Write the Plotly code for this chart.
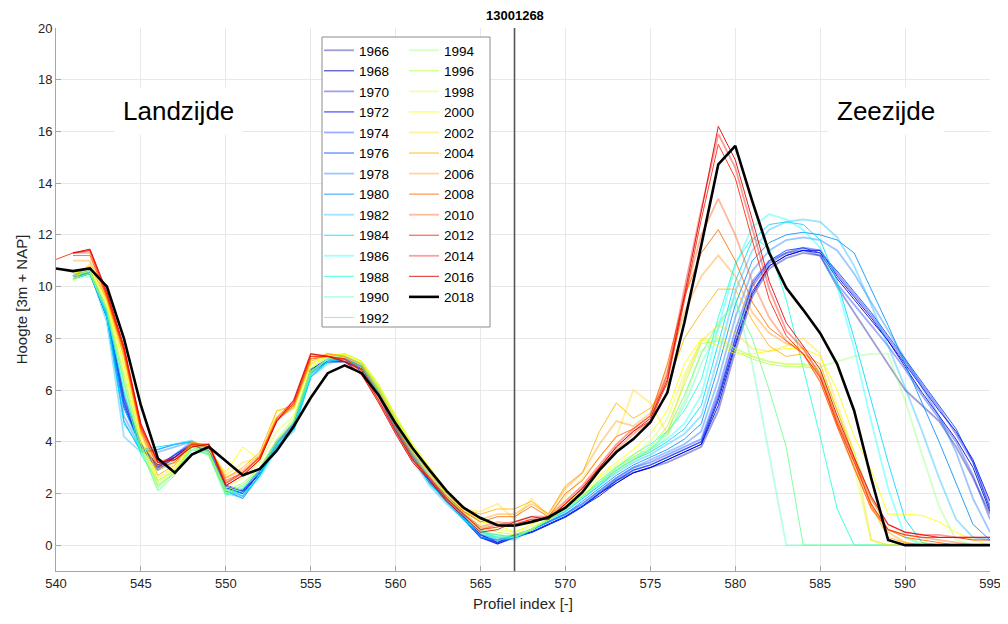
import plotly.graph_objects as go

profile_index = list(range(540, 596))
years = list(range(1966, 2020, 2))

# ---- heights per year (540 ... 595) ----
h1966 = [None,10.4,10.5,8.9,5.6,3.9,3.0,3.4,3.9,3.6,2.2,2.1,2.8,3.9,4.6,6.7,7.1,7.1,6.8,5.8,4.5,3.4,2.5,1.7,1.1,0.4,0.1,
         0.4,0.5,0.8,1.1,1.5,2.0,2.5,2.8,3.0,3.2,3.5,3.8,5.2,7.5,9.6,10.7,11.1,11.3,11.2,10.0,9.0,8.0,7.0,6.0,5.4,4.8,3.8,2.6,1.2]
h1968 = [None,10.3,10.5,8.8,5.4,3.8,3.1,3.4,3.9,3.6,2.2,2.0,2.8,3.9,4.6,6.8,7.1,7.1,6.8,5.8,4.5,3.4,2.5,1.7,1.1,0.4,0.1,
         0.4,0.5,0.8,1.1,1.5,2.0,2.4,2.8,3.0,3.3,3.6,3.9,5.6,7.8,9.8,10.8,11.2,11.4,11.3,10.3,9.5,8.7,7.9,6.9,5.9,5.0,4.1,3.0,1.3]
h1970 = [None,10.4,10.6,9.0,5.7,3.9,3.0,3.5,3.9,3.7,2.3,2.1,2.9,4.0,4.7,6.7,7.1,7.2,6.9,5.9,4.6,3.5,2.6,1.8,1.1,0.3,0.05,
         0.3,0.5,0.8,1.1,1.5,2.0,2.5,2.9,3.1,3.4,3.7,4.0,5.8,8.0,10.0,10.9,11.3,11.5,11.4,10.5,9.7,8.9,8.0,7.1,6.2,5.3,4.3,3.2,1.5]
h1972 = [None,10.4,10.5,8.9,5.5,3.8,2.9,3.4,3.9,3.6,2.2,2.0,2.8,3.9,4.6,6.8,7.2,7.2,6.8,5.8,4.5,3.4,2.5,1.7,1.0,0.3,0.05,
         0.3,0.5,0.8,1.1,1.5,1.9,2.4,2.8,3.0,3.3,3.6,3.9,5.4,7.7,9.7,10.8,11.2,11.4,11.4,10.4,9.6,8.8,7.9,7.0,6.1,5.2,4.4,3.3,1.7]
h1974 = [None,10.4,10.6,9.0,5.8,3.9,3.0,3.5,4.0,3.7,2.3,2.1,2.9,4.0,4.7,6.8,7.1,7.1,6.8,5.8,4.5,3.4,2.5,1.7,1.1,0.4,0.2,
         0.4,0.6,0.9,1.2,1.6,2.1,2.6,3.0,3.2,3.5,3.8,4.1,6.0,8.3,10.2,11.0,11.3,11.4,11.2,10.1,9.3,8.5,7.7,6.8,5.8,4.9,4.0,2.7,1.0]
h1976 = [None,10.3,10.5,8.8,5.3,3.8,3.1,3.5,3.9,3.6,2.2,2.0,2.8,3.9,4.6,6.8,7.1,7.1,6.8,5.8,4.5,3.4,2.4,1.7,1.0,0.3,0.1,
         0.3,0.5,0.8,1.1,1.5,2.0,2.5,2.9,3.1,3.4,3.7,4.0,5.7,8.0,10.1,11.0,11.4,11.5,11.3,10.6,9.8,9.0,8.1,7.2,6.3,5.4,4.5,3.2,1.4]
h1978 = [None,10.4,10.6,8.9,5.0,3.7,3.6,3.8,4.0,3.6,2.1,1.9,2.7,3.8,4.5,6.6,7.1,7.2,6.9,5.9,4.5,3.4,2.4,1.7,1.0,0.3,0.2,
         0.3,0.6,0.9,1.2,1.6,2.1,2.6,3.0,3.3,3.6,3.9,4.4,6.4,8.8,10.6,11.4,11.8,11.9,11.8,11.4,10.5,9.4,8.3,7.2,6.1,5.0,3.6,1.8,0.5]
h1980 = [None,10.4,10.5,8.8,4.8,3.6,3.7,3.9,4.0,3.6,2.1,1.8,2.7,3.8,4.5,6.5,7.1,7.2,6.9,5.9,4.5,3.4,2.4,1.7,1.0,0.3,0.2,
         0.3,0.6,0.9,1.2,1.7,2.2,2.7,3.1,3.4,3.7,4.1,4.7,6.9,9.3,11.0,11.7,12.0,12.1,12.0,11.8,11.3,9.9,8.5,7.0,5.5,4.0,2.4,0.8,0.2]
h1982 = [None,10.4,10.6,8.6,4.2,3.6,3.7,3.9,4.05,3.6,2.0,1.85,2.7,3.8,4.4,6.5,7.0,7.2,6.9,5.8,4.4,3.3,2.3,1.6,1.0,0.4,0.3,
         0.2,0.6,0.9,1.3,1.8,2.3,2.8,3.2,3.5,3.9,4.3,5.0,7.3,9.8,11.4,12.2,12.5,12.6,12.5,11.9,10.8,9.3,7.7,6.1,4.4,2.6,1.0,0.3,0.2]
h1984 = [None,10.5,10.6,8.8,4.7,3.7,3.8,3.9,4.0,3.6,2.2,1.9,2.7,3.8,4.5,6.5,7.1,7.2,6.9,5.9,4.5,3.4,2.4,1.7,1.0,0.5,0.4,
         0.3,0.6,1.0,1.3,1.8,2.3,2.9,3.3,3.6,4.0,4.5,5.4,7.8,10.2,11.8,12.4,12.5,12.4,11.8,10.2,8.0,5.6,3.2,1.0,0.1,0.0,0.0,0.0,0.0]
h1986 = [None,10.4,10.6,8.9,5.4,3.6,2.9,3.3,3.9,3.5,2.1,2.0,2.6,3.7,4.5,6.6,7.1,7.3,7.0,5.9,4.6,3.5,2.5,1.7,1.0,0.5,0.3,
         0.3,0.6,1.0,1.4,1.9,2.4,3.0,3.4,3.7,4.1,4.7,5.8,8.4,10.8,12.3,12.8,12.6,12.2,11.5,10.0,7.6,4.8,2.2,0.3,0.0,0.0,0.0,0.0,0.0]
h1988 = [None,10.3,10.5,9.0,6.0,3.5,2.5,2.9,3.8,3.5,1.95,2.2,2.8,3.9,4.6,6.6,7.2,7.3,7.0,6.0,4.7,3.6,2.6,1.8,1.1,0.5,0.3,
         0.3,0.6,1.0,1.4,1.9,2.5,3.0,3.5,3.9,4.4,5.2,6.4,8.8,10.9,11.9,11.5,9.5,6.9,4.2,1.4,0.0,0.0,0.0,0.0,0.0,0.0,0.0,0.0,0.0]
h1990 = [None,10.3,10.4,9.0,6.2,3.6,2.3,2.8,3.7,3.5,1.9,2.2,2.9,3.9,4.7,6.7,7.2,7.3,7.0,6.0,4.8,3.6,2.7,1.8,1.1,0.5,0.2,
         0.3,0.6,1.0,1.4,1.9,2.4,2.9,3.3,3.7,4.3,5.4,7.0,8.4,9.6,7.0,3.5,0.0,0.0,0.0,0.0,0.0,0.0,0.0,0.0,0.0,0.0,0.0,0.0,0.0]
h1992 = [None,10.3,10.5,9.1,6.3,3.7,2.1,2.7,3.7,3.5,2.0,2.3,2.9,4.0,4.8,6.7,7.2,7.3,7.0,6.1,4.9,3.7,2.8,1.9,1.2,0.6,0.3,
         0.4,0.6,1.0,1.4,1.9,2.4,2.9,3.3,3.7,4.4,5.8,7.4,8.6,9.4,8.0,6.0,3.8,0.0,0.0,0.0,0.0,0.0,0.0,0.0,0.0,0.0,0.0,0.0,0.0]
h1994 = [None,10.4,10.5,9.1,6.5,3.8,2.2,2.8,3.8,3.5,2.0,2.3,3.0,4.0,4.8,6.7,7.2,7.4,7.1,6.1,4.9,3.8,2.9,2.0,1.3,0.6,0.4,
         0.3,0.6,1.0,1.4,1.9,2.4,2.9,3.3,3.6,4.2,5.6,7.5,8.0,7.6,7.3,7.1,7.0,7.0,6.9,7.1,7.3,7.4,7.4,5.6,3.5,1.5,0.2,0.0,0.0]
h1996 = [None,10.4,10.6,9.2,6.6,3.9,2.3,2.8,3.8,3.6,2.1,2.4,3.0,4.1,4.9,6.8,7.3,7.4,7.1,6.2,5.0,3.8,2.9,2.0,1.3,0.7,0.5,
         0.4,0.6,1.0,1.4,1.9,2.5,3.0,3.4,3.8,4.6,6.2,7.8,7.9,7.5,7.2,7.0,6.9,6.9,6.8,5.2,3.6,1.8,0.6,0.3,0.1,0.0,0.0,0.0,0.0]
h1998 = [None,10.5,10.6,9.3,6.8,4.0,2.4,2.9,3.9,3.6,2.2,2.6,3.2,4.4,5.0,6.9,7.3,7.4,7.1,6.2,5.0,3.9,3.0,2.1,1.4,0.8,0.6,
         0.5,0.7,1.0,1.5,2.0,2.6,3.1,3.5,4.0,4.9,6.6,7.9,8.1,7.6,7.3,7.1,7.0,7.0,6.7,4.8,3.0,0.2,0.0,0.0,0.0,0.0,0.0,0.0,0.0]
h2000 = [None,10.5,10.7,9.4,7.0,4.1,2.5,2.9,3.9,3.7,2.8,3.8,3.3,5.2,5.3,7.0,7.3,7.4,7.1,6.2,5.0,3.9,3.0,2.1,1.4,0.9,0.8,
         0.5,0.8,1.1,1.6,2.1,2.7,3.2,3.7,4.3,5.2,7.0,8.0,7.7,7.4,7.4,7.5,7.6,7.6,7.3,6.0,4.2,2.9,1.2,1.2,1.15,0.9,0.5,0.2,0.0]
h2002 = [None,10.2,10.9,9.5,7.2,4.3,2.6,3.0,4.0,3.7,2.7,3.2,3.4,5.0,5.4,7.0,7.4,7.3,7.0,6.1,4.9,3.7,2.9,2.0,1.4,1.3,1.6,
         1.0,1.8,1.1,1.9,2.6,3.4,4.2,6.0,5.5,4.3,6.4,7.9,8.5,8.2,7.6,7.5,7.7,8.0,7.4,5.4,3.6,0.2,0.0,0.0,0.0,0.0,0.0,0.0,0.0]
h2004 = [None,10.4,10.8,9.5,7.3,4.4,2.7,3.1,4.0,3.8,2.6,3.0,3.6,5.2,5.4,7.1,7.4,7.3,7.0,6.0,4.8,3.6,2.8,2.0,1.4,1.2,1.4,
         1.4,1.7,1.2,2.3,2.8,4.4,5.5,4.9,5.3,6.2,8.0,9.0,9.9,9.9,8.7,7.7,7.3,7.4,7.0,5.2,3.4,1.5,0.3,0.1,0.0,0.0,0.0,0.0,0.0]
h2006 = [None,11.0,11.0,9.6,7.4,4.4,2.9,3.2,4.0,3.8,2.6,2.9,3.5,4.9,5.3,7.2,7.4,7.3,6.9,5.9,4.7,3.5,2.7,1.9,1.3,1.0,1.2,
         1.2,1.6,1.2,2.2,2.8,3.9,4.8,4.6,5.1,6.8,9.0,10.4,11.2,10.4,9.0,8.2,7.8,7.6,6.5,4.9,3.3,1.6,0.5,0.1,0.0,0.0,0.0,0.0,0.0]
h2008 = [None,11.2,11.2,9.6,7.5,4.5,3.0,3.2,3.9,3.8,2.5,2.8,3.4,4.8,5.4,7.2,7.3,7.2,6.8,5.8,4.6,3.4,2.6,1.9,1.3,0.9,1.1,
         1.1,1.5,1.1,2.0,2.5,3.4,4.2,4.5,5.0,7.0,9.6,11.3,12.2,11.0,9.4,8.4,7.9,7.4,6.3,4.6,3.0,1.4,0.6,0.3,0.2,0.1,0.0,0.0,0.0]
h2010 = [None,11.3,11.3,9.6,7.5,4.5,3.1,3.3,3.9,3.9,2.4,2.8,3.4,4.8,5.5,7.3,7.3,7.2,6.7,5.7,4.5,3.3,2.6,1.8,1.2,0.7,0.9,
         0.8,1.0,1.0,1.6,2.2,3.0,3.7,4.3,4.8,6.6,9.6,12.0,13.4,12.0,10.2,8.8,7.9,7.4,6.4,4.6,3.0,1.5,0.6,0.4,0.3,0.2,0.1,0.0,0.0]
h2012 = [11.05,11.3,11.4,9.7,7.6,4.6,3.2,3.3,3.8,3.9,2.3,2.7,3.3,4.8,5.5,7.3,7.3,7.2,6.7,5.6,4.4,3.3,2.6,1.8,1.2,0.6,0.7,
         0.8,1.0,1.0,1.6,2.2,3.0,3.8,4.4,4.8,6.3,9.4,12.6,15.5,14.2,11.8,9.5,8.1,7.4,6.5,4.7,3.2,1.6,0.6,0.4,0.3,0.3,0.3,0.2,0.2]
h2014 = [None,11.3,11.4,9.7,7.6,4.6,3.2,3.4,3.9,3.9,2.4,2.8,3.4,4.9,5.6,7.4,7.3,7.1,6.6,5.6,4.4,3.3,2.5,1.8,1.2,0.6,0.8,
         0.9,1.1,1.1,1.7,2.3,3.1,3.9,4.5,5.0,6.6,9.9,13.0,15.9,14.6,12.3,9.9,8.3,7.6,6.6,4.8,3.3,1.8,0.8,0.5,0.4,0.4,0.3,0.3,0.3]
h2016 = [None,11.3,11.45,9.8,7.7,4.7,3.2,3.3,3.8,3.9,2.3,2.7,3.3,4.8,5.6,7.4,7.3,7.1,6.6,5.5,4.3,3.2,2.5,1.7,1.1,0.5,0.6,
         0.9,1.1,1.0,1.6,2.2,3.0,3.8,4.4,4.9,6.4,9.6,12.9,16.2,14.9,12.6,10.2,8.6,7.7,6.8,5.0,3.4,1.9,0.8,0.5,0.4,0.3,0.3,0.3,0.3]
h2018 = [10.7,10.6,10.7,10.0,8.0,5.4,3.35,2.8,3.5,3.8,3.25,2.7,2.95,3.65,4.6,5.7,6.65,6.95,6.65,5.8,4.7,3.75,2.9,2.1,1.45,1.05,0.77,
         0.75,0.9,1.08,1.45,2.05,2.9,3.6,4.1,4.75,5.9,8.6,11.6,14.73,15.44,13.3,11.3,9.95,9.1,8.2,7.0,5.2,2.6,0.2,0.0,0.0,0.0,0.0,0.0,0.0]

heights = [h1966, h1968, h1970, h1972, h1974, h1976, h1978, h1980, h1982, h1984,
           h1986, h1988, h1990, h1992, h1994, h1996, h1998, h2000, h2002, h2004,
           h2006, h2008, h2010, h2012, h2014, h2016, h2018]

x_ticks = list(range(540, 596, 5))
y_ticks = list(range(0, 21, 2))
transect_id = "13001268"
split_index = 567

# ---- styling ----
jet = [(0,0,0.571),(0,0,0.714),(0,0,0.857),(0,0,1),(0,0.143,1),(0,0.286,1),(0,0.429,1),
       (0,0.571,1),(0,0.714,1),(0,0.857,1),(0,1,1),(0.143,1,0.857),(0.286,1,0.714),
       (0.429,1,0.571),(0.571,1,0.429),(0.714,1,0.286),(0.857,1,0.143),(1,1,0),
       (1,0.857,0),(1,0.714,0),(1,0.571,0),(1,0.429,0),(1,0.286,0),(1,0.143,0),
       (1,0,0),(0.857,0,0)]

def rgb(c):
    return "rgb(%d,%d,%d)" % tuple(round(v * 255) for v in c)

# page has an 8px body margin: figure is drawn at screen offset (8, 8)
OFF = 8
W, H = 1008 - OFF, 624 - OFF
SL, SR, ST, SB = 56, 990, 28, 571          # plot area in screen pixels
pw, ph = SR - SL, SB - ST
def px(xs): return (xs - SL) / pw
def py(ys): return (SB - ys) / ph

fig = go.Figure()
for i, (yr, h) in enumerate(zip(years, heights)):
    if yr == 2018:
        color, width, op = "black", 2.6, 1.0
    else:
        color = rgb(jet[i])
        light = (i % 2 == 0)
        width = 1.8 if light else 1.0
        op = 0.38 if light else 0.85
    fig.add_trace(go.Scatter(
        x=profile_index, y=h, mode="lines", name=str(yr),
        line=dict(color=color, width=width), opacity=op,
        legend="legend" if yr <= 1992 else "legend2",
        connectgaps=False, hoverinfo="skip"))

font = "Liberation Sans, Arial, Helvetica, sans-serif"
axis_col = "#a6a6a6"
grid_col = "#e8e8e8"

fig.add_shape(type="line", xref="x", yref="y", x0=split_index, x1=split_index, y0=-1, y1=20,
              line=dict(color="#555555", width=1.6), layer="above")
fig.add_shape(type="rect", xref="paper", yref="paper", x0=px(322), x1=px(490), y0=py(327), y1=py(37),
              line=dict(color="#8c8c8c", width=1), fillcolor="white", layer="above")

fig.add_annotation(x=split_index, xref="x", y=1, yref="paper", yanchor="bottom", yshift=3,
                   text="<b>%s</b>" % transect_id, showarrow=False,
                   font=dict(family=font, size=13, color="#000"))
fig.add_annotation(x=547.2, y=16.8, xref="x", yref="y", text="Landzijde", showarrow=False,
                   font=dict(family=font, size=26, color="#000"), bgcolor="white", borderpad=8)
fig.add_annotation(x=588.9, y=16.8, xref="x", yref="y", text="Zeezijde", showarrow=False,
                   font=dict(family=font, size=26, color="#000"), bgcolor="white", borderpad=8)

leg_common = dict(bgcolor="rgba(0,0,0,0)", borderwidth=0, xanchor="left", yanchor="top",
                  font=dict(family=font, size=13.5, color="#000"), tracegroupgap=0, itemwidth=30)
fig.update_layout(
    width=W, height=H,
    margin=dict(l=SL - OFF, r=(W + OFF) - SR, t=ST - OFF, b=(H + OFF) - SB),
    paper_bgcolor="white", plot_bgcolor="white",
    font=dict(family=font, size=13, color="#262626"),
    legend=dict(x=px(319), y=py(35), **leg_common),
    legend2=dict(x=px(404), y=py(35), **leg_common),
    xaxis=dict(range=[540, 595], tickvals=x_ticks, ticks="inside", ticklen=5, tickcolor=axis_col,
               showline=True, linecolor=axis_col, linewidth=1, showgrid=True, gridcolor=grid_col,
               zeroline=False, automargin=False,
               title=dict(text="Profiel index [-]", font=dict(size=15, color="#262626"), standoff=8),
               tickfont=dict(size=13, color="#262626")),
    yaxis=dict(range=[-1, 20], tickvals=y_ticks, ticks="inside", ticklen=5, tickcolor=axis_col,
               showline=True, linecolor=axis_col, linewidth=1, showgrid=True, gridcolor=grid_col,
               zeroline=False, automargin=False,
               title=dict(text="Hoogte [3m + NAP]", font=dict(size=15, color="#262626"), standoff=6),
               tickfont=dict(size=13, color="#262626")),
)

fig.write_html("out.html")
